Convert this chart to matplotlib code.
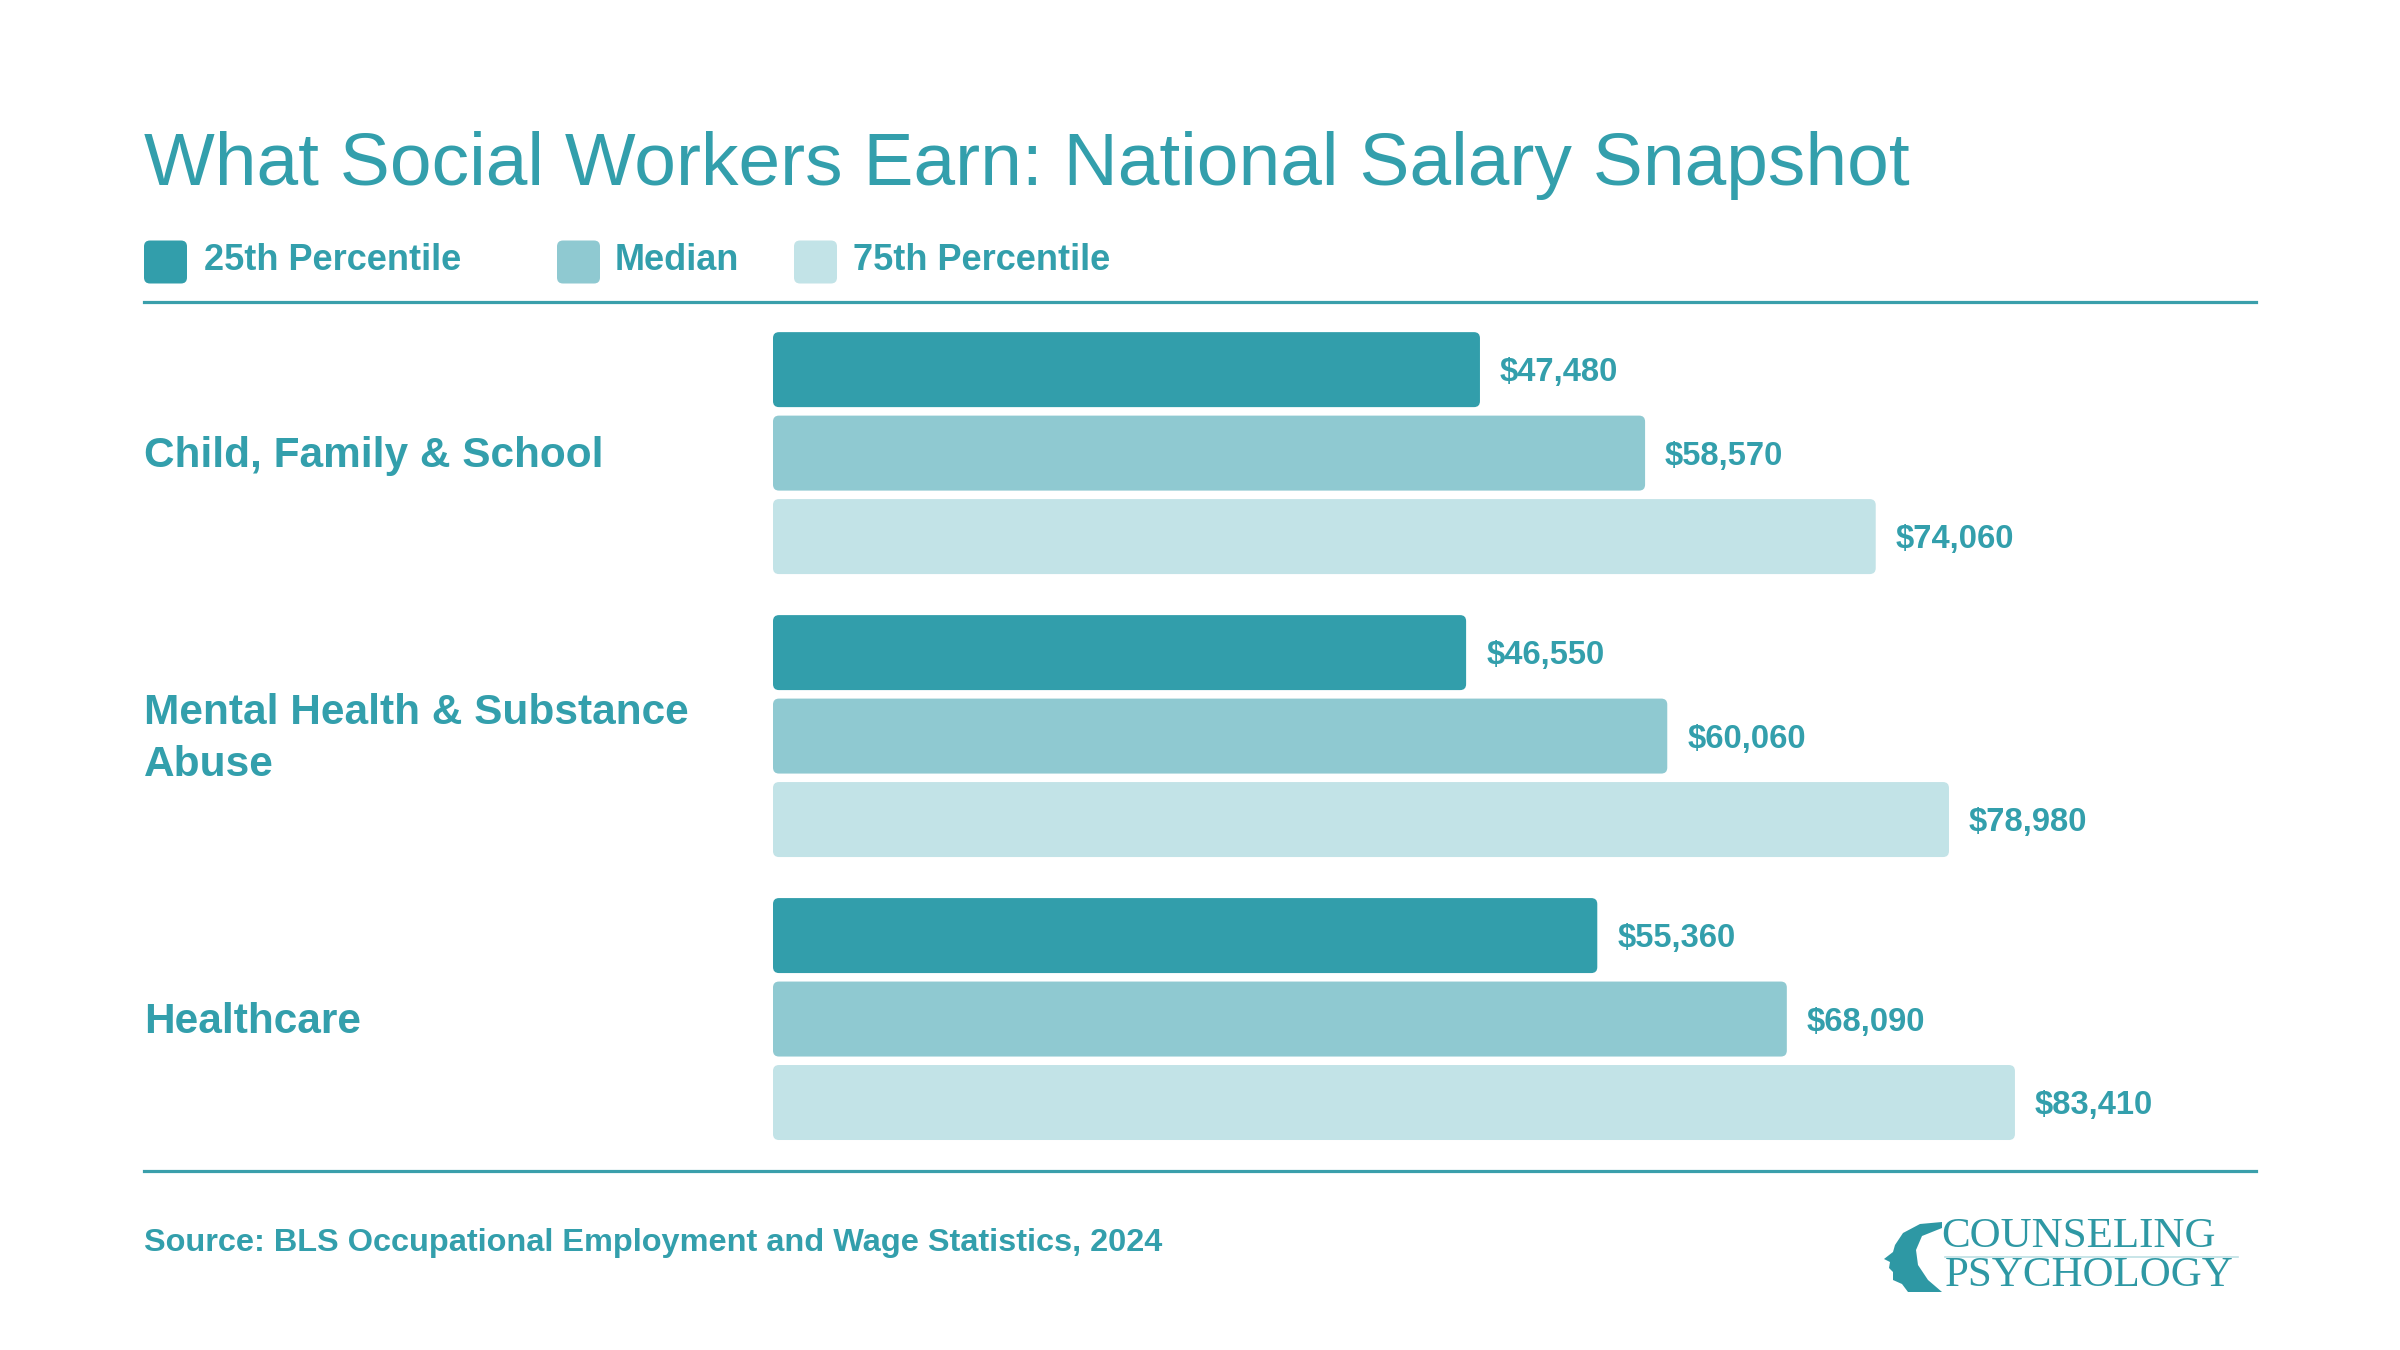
import matplotlib.pyplot as plt
from matplotlib.patches import FancyBboxPatch, Polygon
from matplotlib.lines import Line2D
from matplotlib import transforms
import numpy as np

plt.rcParams['font.family'] = ['Liberation Sans', 'DejaVu Sans']

# data
categories = ["Child, Family & School", "Mental Health & Substance\nAbuse", "Healthcare"]
series = ["25th Percentile", "Median", "75th Percentile"]
p25 = [47480, 46550, 55360]
median = [58570, 60060, 68090]
p75 = [74060, 78980, 83410]

TEXT = "#339FAC"
LINE = "#3A9FAB"
colors = ["#329EAB", "#8FC9D1", "#C2E3E7"]

W, H = 2400, 1350
fig = plt.figure(figsize=(24, 13.5), dpi=100)

def fx(px):
    return px / W

def fy(px):
    return 1 - px / H

# bar area (pixel layout of the original)
left, right, top, bottom = 773, 2256, 302, 1171
ax = fig.add_axes([fx(left), fy(bottom), fx(right - left), (bottom - top) / H])
xmax = 99600
ymin, ymax = -0.534, 2.537
ax.set_xlim(0, xmax)
ax.set_ylim(ymax, ymin)
ax.axis("off")

bar_h = 0.265
offset = 0.295
y = np.arange(len(categories))
x_per_px = xmax / (right - left)
y_per_px = (ymax - ymin) / (bottom - top)
aspect = y_per_px / x_per_px

for i, (vals, col) in enumerate(zip([p25, median, p75], colors)):
    bars = ax.barh(y + (i - 1) * offset, vals, height=bar_h, color=col)
    for b, v in zip(bars, vals):
        b.set_visible(False)
        ax.add_patch(FancyBboxPatch((b.get_x(), b.get_y()), b.get_width(), b.get_height(),
                                    boxstyle=f"round,pad=0,rounding_size={6 * x_per_px}",
                                    mutation_aspect=aspect, facecolor=col, edgecolor="none"))
        ax.text(v + 20 * x_per_px, b.get_y() + b.get_height() / 2 + 3 * y_per_px, f"${v:,}",
                va="center", ha="left", fontsize=23.6, fontweight="bold", color=TEXT)

# category labels
trans = transforms.blended_transform_factory(fig.transFigure, ax.transData)
for yi, cat in zip(y, categories):
    ax.text(fx(144), yi + 3 * y_per_px, cat, transform=trans, ha="left", va="center",
            fontsize=30.5, fontweight="bold", color=TEXT, linespacing=1.4)

# title
fig.text(fx(144), fy(185), "What Social Workers Earn: National Salary Snapshot",
         fontsize=54, color=TEXT, va="baseline", ha="left")

# legend
sq = 43
for name, col, sx, tx in zip(series, colors, [144, 557, 794], [204, 615, 853]):
    fig.add_artist(FancyBboxPatch((fx(sx), fy(262 + sq / 2)), fx(sq), sq / H,
                                  boxstyle=f"round,pad=0,rounding_size={fx(6)}",
                                  mutation_aspect=W / H, facecolor=col, edgecolor="none",
                                  transform=fig.transFigure))
    fig.text(fx(tx), fy(261), name, fontsize=26, fontweight="bold", color=TEXT,
             va="center", ha="left")

# rules
for ly in [302, 1171]:
    fig.add_artist(Line2D([fx(144), fx(2256)], [fy(ly), fy(ly)], transform=fig.transFigure,
                          color=LINE, lw=2.3))

# source
fig.text(fx(144), fy(1243), "Source: BLS Occupational Employment and Wage Statistics, 2024",
         fontsize=23.4, fontweight="bold", color=TEXT, va="center", ha="left")

# logo
logo_col = "#2E98A4"
fig.text(fx(1941), fy(1237), "COUNSELING", family="Liberation Serif", fontsize=31,
         color=logo_col, va="center", ha="left")
fig.text(fx(1945), fy(1276), "PSYCHOLOGY", family="Liberation Serif", fontsize=31,
         color=logo_col, va="center", ha="left")
fig.add_artist(Line2D([fx(1945), fx(2238)], [fy(1257), fy(1257)], transform=fig.transFigure,
                      color="#BFE0E4", lw=1.2))
head = [(1942, 1222), (1920, 1224), (1903, 1233), (1895, 1245), (1893, 1252), (1884, 1259),
        (1890, 1262), (1889, 1268), (1893, 1272), (1893, 1280), (1902, 1284), (1908, 1292),
        (1942, 1292), (1928, 1280), (1918, 1265), (1916, 1250), (1922, 1236), (1942, 1228)]
fig.add_artist(Polygon([(fx(a), fy(b)) for a, b in head], closed=True, transform=fig.transFigure,
                       facecolor=logo_col, edgecolor="none"))

fig.savefig("out.png", dpi=100, facecolor="white")
